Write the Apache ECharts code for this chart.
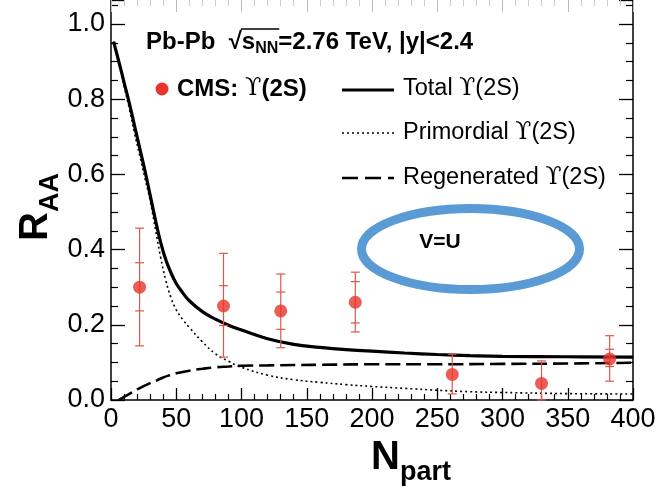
<!DOCTYPE html>
<html><head><meta charset="utf-8">
<script src="https://cdn.jsdelivr.net/npm/echarts@6/dist/echarts.min.js"></script>
<style>html,body{margin:0;padding:0;background:#fff}#c{width:659px;height:492px}</style>
</head><body><div id="c"></div>
<script>
// ---- data ----
const totalN = [2, 6, 10, 14, 18, 22, 26, 30, 34, 38, 42, 46, 50, 55, 60, 70, 80, 90, 100, 120, 140, 160, 180, 200, 225, 250, 275, 300, 350, 400];
const totalR = [0.953, 0.90, 0.845, 0.79, 0.73, 0.67, 0.61, 0.545, 0.48, 0.42, 0.373, 0.338, 0.31, 0.285, 0.264, 0.235, 0.215, 0.199, 0.186, 0.163, 0.148, 0.140, 0.134, 0.130, 0.125, 0.121, 0.118, 0.116, 0.115, 0.114];

const primN = [2, 6, 10, 14, 18, 22, 26, 30, 34, 38, 42, 46, 50, 55, 60, 70, 80, 90, 100, 120, 140, 160, 180, 200, 225, 250, 275, 300, 350, 400];
const primR = [0.953, 0.895, 0.835, 0.775, 0.71, 0.65, 0.59, 0.53, 0.455, 0.38, 0.318, 0.272, 0.24, 0.214, 0.193, 0.155, 0.123, 0.103, 0.087, 0.066, 0.054, 0.047, 0.041, 0.036, 0.031, 0.026, 0.022, 0.020, 0.017, 0.016];

const regenN = [6, 10, 15, 20, 25, 30, 35, 40, 45, 50, 60, 70, 80, 90, 100, 120, 140, 170, 200, 250, 300, 350, 400];
const regenR = [0, 0.008, 0.018, 0.028, 0.037, 0.045, 0.052, 0.060, 0.066, 0.071, 0.078, 0.083, 0.087, 0.089, 0.091, 0.092, 0.093, 0.094, 0.095, 0.095, 0.096, 0.097, 0.099];

const cmsN = [21.9, 86.2, 130.1, 187.2, 261.5, 329.9, 382.1];
const cmsR = [0.300, 0.250, 0.237, 0.260, 0.068, 0.044, 0.109];
const cmsOuterHi = [0.457, 0.390, 0.335, 0.340, 0.122, 0.104, 0.171];
const cmsOuterLo = [0.144, 0.114, 0.139, 0.181, 0.016, 0.0, 0.050];
const cmsInnerHi = [0.365, 0.304, 0.287, 0.315, null, null, 0.135];
const cmsInnerLo = [0.237, 0.198, 0.188, 0.205, null, null, 0.089];

const xTickValues = [0, 50, 100, 150, 200, 250, 300, 350, 400];
const yTickValues = [0.0, 0.2, 0.4, 0.6, 0.8, 1.0];

// ---- chart ----
const FONT = '"Liberation Sans", Arial, Helvetica, sans-serif';
const SERIF = '"DejaVu Serif", "Liberation Serif", serif';
const RED = '#e8352b';
const ERR = '#e0554c';
const UPS = '\u03D2';

const zip = (a, b) => a.map((v, i) => [v, b[i]]);
const chart = echarts.init(document.getElementById('c'), null, {renderer: 'canvas'});

const mctx = document.createElement('canvas').getContext('2d');
function tw(txt, font) { mctx.font = font; return mctx.measureText(txt).width; }

const xBase = {
  type: 'value', min: xTickValues[0], max: xTickValues[xTickValues.length - 1],
  interval: xTickValues[1] - xTickValues[0], splitLine: {show: false}
};
const yBase = {
  type: 'value', min: yTickValues[0], max: 400 / 376,
  interval: yTickValues[1] - yTickValues[0], splitLine: {show: false}
};

function errRender(params, api) {
  const i = params.dataIndex;
  const x = api.value(0);
  const cap = 4.5;
  const children = [];
  const seg = (p1, p2) => ({type: 'line', shape: {x1: p1[0], y1: p1[1], x2: p2[0], y2: p2[1]},
    style: {stroke: ERR, lineWidth: 1.2}});
  const hi = api.coord([x, cmsOuterHi[i]]);
  const lo = api.coord([x, cmsOuterLo[i]]);
  children.push(seg(hi, lo));
  children.push(seg([hi[0] - cap, hi[1]], [hi[0] + cap, hi[1]]));
  children.push(seg([lo[0] - cap, lo[1]], [lo[0] + cap, lo[1]]));
  if (cmsInnerHi[i] != null) {
    const ih = api.coord([x, cmsInnerHi[i]]);
    const il = api.coord([x, cmsInnerLo[i]]);
    children.push(seg([ih[0] - cap, ih[1]], [ih[0] + cap, ih[1]]));
    children.push(seg([il[0] - cap, il[1]], [il[0] + cap, il[1]]));
  }
  return {type: 'group', children};
}

// header layout (overline of the square root)
const HX = 146, HY = 42, HF = 24, HS = 16;
const hBold = 'bold ' + HF + 'px ' + FONT;
const hSub = 'bold ' + HS + 'px ' + FONT;
const w1 = tw('Pb-Pb  \u221A', hBold);
const ws = tw('s', hBold) + tw('NN', hSub);

const LF = 23.5;
const legRich = {t: {fontFamily: FONT, fontSize: LF, color: '#000'}, u: {fontFamily: SERIF, fontSize: LF, color: '#000'}};

const option = {
  animation: false,
  backgroundColor: '#fff',
  grid: {left: 111, right: 26, top: 0, bottom: 92},
  xAxis: [
    Object.assign({}, xBase, {
      position: 'bottom',
      axisLine: {show: true, onZero: false, lineStyle: {color: '#000', width: 1.5}},
      axisTick: {show: true, inside: true, length: 12, lineStyle: {color: '#000', width: 1.3}},
      minorTick: {show: true, splitNumber: 5, length: 6, lineStyle: {color: '#000', width: 1.2}},
      axisLabel: {fontSize: 27, color: '#000', fontFamily: FONT, margin: 6}
    }),
    Object.assign({}, xBase, {
      position: 'top',
      axisLine: {show: false, onZero: false},
      axisTick: {show: true, inside: true, length: 12, lineStyle: {color: '#bbb', width: 1}},
      minorTick: {show: true, splitNumber: 5, length: 6, lineStyle: {color: '#ccc', width: 1}},
      axisLabel: {show: false}
    })
  ],
  yAxis: [
    Object.assign({}, yBase, {
      position: 'left',
      axisLine: {show: true, onZero: false, lineStyle: {color: '#000', width: 1.5}},
      axisTick: {show: true, inside: true, length: 14, lineStyle: {color: '#000', width: 1.3}},
      minorTick: {show: true, splitNumber: 4, length: 7, lineStyle: {color: '#000', width: 1.2}},
      axisLabel: {fontSize: 27, color: '#000', fontFamily: FONT, margin: 6, showMaxLabel: false,
        formatter: v => (Math.abs(v * 5 - Math.round(v * 5)) < 1e-6 ? v.toFixed(1) : '')}
    }),
    Object.assign({}, yBase, {
      position: 'right',
      axisLine: {show: true, onZero: false, lineStyle: {color: '#000', width: 1.5}},
      axisTick: {show: true, inside: true, length: 14, lineStyle: {color: '#000', width: 1.3}},
      minorTick: {show: true, splitNumber: 4, length: 7, lineStyle: {color: '#000', width: 1.2}},
      axisLabel: {show: false}
    })
  ],
  series: [
    {name: 'Primordial', type: 'line', data: zip(primN, primR), showSymbol: false, smooth: 0.45,
      lineStyle: {color: '#000', width: 1.6, type: [2, 3]}, z: 3},
    {name: 'Regenerated', type: 'line', data: zip(regenN, regenR), showSymbol: false, smooth: 0.45,
      lineStyle: {color: '#000', width: 2.6, type: [15, 6]}, z: 3},
    {name: 'Total', type: 'line', data: zip(totalN, totalR), showSymbol: false, smooth: 0.45,
      lineStyle: {color: '#000', width: 3.2}, z: 4},
    {name: 'err', type: 'custom', data: cmsN.map((n, i) => [n, cmsR[i]]), renderItem: errRender, z: 5, silent: true},
    {name: 'CMS', type: 'scatter', data: zip(cmsN, cmsR), symbol: 'circle', symbolSize: 13,
      itemStyle: {color: RED}, z: 6}
  ],
  graphic: [
    // header
    {type: 'text', x: HX, y: HY, z: 50, style: {
      text: '{a|Pb-Pb  \u221A}{a|s}{sub|NN}{a|=2.76 TeV, |y|<2.4}',
      verticalAlign: 'middle', textVerticalAlign: 'middle', align: 'left',
      rich: {
        a: {fontFamily: FONT, fontWeight: 'bold', fontSize: HF, lineHeight: 30, color: '#000'},
        sub: {fontFamily: FONT, fontWeight: 'bold', fontSize: HS, lineHeight: 16, verticalAlign: 'bottom', color: '#000'}
      }}},
    {type: 'line', z: 50, shape: {x1: HX + w1 - 1, y1: HY - 13, x2: HX + w1 + ws + 1, y2: HY - 13},
      style: {stroke: '#000', lineWidth: 1.3}},
    // CMS legend
    {type: 'circle', shape: {cx: 162, cy: 89, r: 6.5}, style: {fill: RED}, z: 50},
    {type: 'text', x: 177, y: 89, z: 50, style: {
      text: '{b|CMS: }{u|' + UPS + '}{b|(2S)}', verticalAlign: 'middle', textVerticalAlign: 'middle',
      rich: {
        b: {fontFamily: FONT, fontWeight: 'bold', fontSize: 24, color: '#000'},
        u: {fontFamily: SERIF, fontSize: 24, color: '#000'}
      }}},
    // line legends
    {type: 'line', shape: {x1: 342, y1: 90, x2: 394, y2: 90}, style: {stroke: '#000', lineWidth: 3.2}, z: 50},
    {type: 'line', shape: {x1: 342, y1: 133, x2: 394, y2: 133}, style: {stroke: '#000', lineWidth: 1.6, lineDash: [2, 3]}, z: 50},
    {type: 'line', shape: {x1: 342, y1: 178, x2: 394, y2: 178}, style: {stroke: '#000', lineWidth: 2.6, lineDash: [16, 7]}, z: 50},
    {type: 'text', x: 403, y: 89, z: 50, style: {
      text: '{t|Total }{u|' + UPS + '}{t|(2S)}', verticalAlign: 'middle', textVerticalAlign: 'middle', rich: legRich}},
    {type: 'text', x: 403, y: 133, z: 50, style: {
      text: '{t|Primordial }{u|' + UPS + '}{t|(2S)}', verticalAlign: 'middle', textVerticalAlign: 'middle', rich: legRich}},
    {type: 'text', x: 403, y: 178, z: 50, style: {
      text: '{t|Regenerated }{u|' + UPS + '}{t|(2S)}', verticalAlign: 'middle', textVerticalAlign: 'middle', rich: legRich}},
    // annotation ellipse
    {type: 'ellipse', shape: {cx: 470.5, cy: 249, rx: 109, ry: 40.5}, style: {fill: 'none', stroke: '#5b9bd5', lineWidth: 9}, z: 60},
    {type: 'text', x: 440, y: 242, z: 60, style: {text: 'V=U', fontFamily: FONT, fontWeight: 'bold', fontSize: 21,
      fill: '#000', align: 'center', verticalAlign: 'middle', textAlign: 'center', textVerticalAlign: 'middle'}},
    // axis titles
    {type: 'text', x: 411, y: 458, z: 50, style: {
      text: '{n|N}{p|part}', align: 'center', textAlign: 'center', verticalAlign: 'middle', textVerticalAlign: 'middle',
      rich: {
        n: {fontFamily: FONT, fontWeight: 'bold', fontSize: 40, lineHeight: 56, color: '#000'},
        p: {fontFamily: FONT, fontWeight: 'bold', fontSize: 27, lineHeight: 27, verticalAlign: 'bottom', color: '#000'}
      }}},
    {type: 'text', x: 36, y: 207, rotation: Math.PI / 2, z: 50, style: {
      text: '{n|R}{p|AA}', align: 'center', textAlign: 'center', verticalAlign: 'middle', textVerticalAlign: 'middle',
      rich: {
        n: {fontFamily: FONT, fontWeight: 'bold', fontSize: 40, lineHeight: 56, color: '#000'},
        p: {fontFamily: FONT, fontWeight: 'bold', fontSize: 27, lineHeight: 27, verticalAlign: 'bottom', color: '#000'}
      }}}
  ]
};
chart.setOption(option);
</script>
</body></html>
